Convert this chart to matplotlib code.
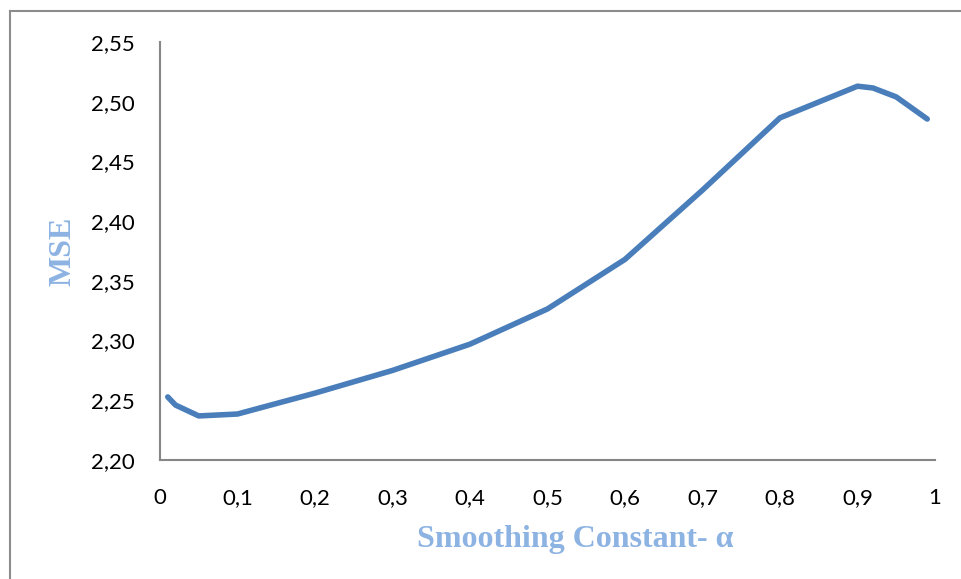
import matplotlib.pyplot as plt
from matplotlib.lines import Line2D

alpha = [0.01, 0.02, 0.05, 0.1, 0.2, 0.3, 0.4, 0.5, 0.6, 0.7, 0.8, 0.9, 0.92, 0.95, 0.99]
mse = [2.2528, 2.2460, 2.2369, 2.2385, 2.2560, 2.2750, 2.2970, 2.3265, 2.3680,
       2.4260, 2.4865, 2.5130, 2.5115, 2.5040, 2.4855]

x_ticks = [0, 0.1, 0.2, 0.3, 0.4, 0.5, 0.6, 0.7, 0.8, 0.9, 1]
x_labels = ['0', '0,1', '0,2', '0,3', '0,4', '0,5', '0,6', '0,7', '0,8', '0,9', '1']
y_ticks = [2.20, 2.25, 2.30, 2.35, 2.40, 2.45, 2.50, 2.55]
y_labels = ['2,20', '2,25', '2,30', '2,35', '2,40', '2,45', '2,50', '2,55']

fig = plt.figure(figsize=(9.62, 5.79), dpi=100)
ax = fig.add_axes([160 / 962, 1 - 460 / 579, 775 / 962, 418 / 579])

ax.plot(alpha, mse, color='#4a7ebb', linewidth=4, solid_capstyle='round', solid_joinstyle='round')

ax.set_xlim(0, 1)
ax.set_ylim(2.20, 2.55)
ax.set_xticks(x_ticks)
ax.set_xticklabels(x_labels)
ax.set_yticks(y_ticks)
ax.set_yticklabels(y_labels)
ax.tick_params(axis='both', length=0, labelsize=16, labelcolor='black')
ax.tick_params(axis='x', pad=20)
ax.tick_params(axis='y', pad=18)
for lbl in ax.get_xticklabels() + ax.get_yticklabels():
    lbl.set_family('Lato')

for s in ['top', 'right']:
    ax.spines[s].set_visible(False)
for s in ['left', 'bottom']:
    ax.spines[s].set_color('#868686')
    ax.spines[s].set_linewidth(1.5)

lab_font = dict(family='Liberation Serif', weight='bold', color='#8db3e2', fontsize=23)
fig.text(575 / 962, 1 - 540 / 579, 'Smoothing Constant- α', ha='center', va='center', **lab_font)
fig.text(63 / 962, 1 - 251 / 579, 'MSE', ha='center', va='center', rotation=90, **lab_font)

# outer frame (only top and left visible in the reference)
fig.add_artist(Line2D([10 / 962, 1], [1 - 11 / 579, 1 - 11 / 579], color='#8c8c8c', linewidth=1.5))
fig.add_artist(Line2D([10 / 962, 10 / 962], [0, 1 - 11 / 579], color='#8c8c8c', linewidth=1.5))

fig.savefig('out.png', dpi=100)
